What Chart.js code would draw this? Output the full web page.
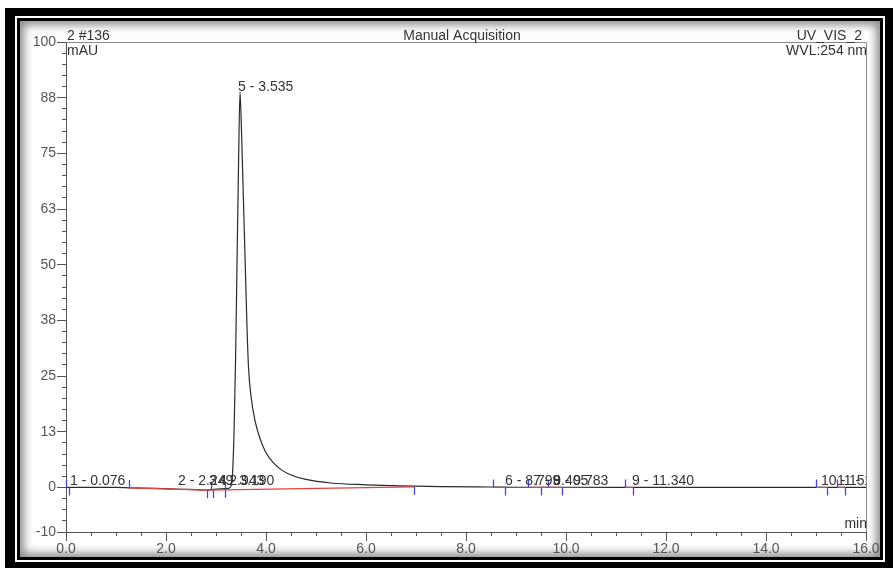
<!DOCTYPE html>
<html>
<head>
<meta charset="utf-8">
<script src="https://cdn.jsdelivr.net/npm/chart.js@4.4.1/dist/chart.umd.min.js"></script>
<style>
body { margin:0; background:#fff; width:893px; height:568px; overflow:hidden; position:relative; }
#f1 { position:absolute; left:5px; top:8px; width:888px; height:560px; background:#000; }
#f2 { position:absolute; left:10px; top:8px; right:8px; bottom:6px; border:2px solid #fff; }
#f3 { position:absolute; left:0; top:0; right:0; bottom:0; border:3px solid #000; background:#fff; box-shadow: inset 0 0 8px 4px rgba(0,0,0,0.45); }
#c { position:absolute; left:0; top:0; }
</style>
</head>
<body>
<div id="f1"><div id="f2"><div id="f3"></div></div></div>
<canvas id="c" width="893" height="568"></canvas>
<script>
// detector trace, time in min, signal in mAU
const signalTimes = [0.0, 0.3, 1.0, 1.3, 1.8, 2.3, 2.6, 2.85, 2.95, 3.1, 3.25, 3.30, 3.33, 3.36, 3.39, 3.42, 3.45, 3.48,
    3.51, 3.55, 3.59, 3.62, 3.65, 3.70, 3.78, 3.88, 4.0, 4.15, 4.3, 4.5, 4.8, 5.3, 6.0, 6.7, 7.5, 8.5, 9.0, 10.0, 12.0, 14.0, 16.0];
const signalValues = [0.0, 0.0, 0.0, -0.1, -0.2, -0.4, -0.5, -0.6, -0.4, -0.3, -0.2, 0.3, 3, 12, 28, 50, 72, 88.8,
    80, 64, 48, 36, 27, 20.5, 15, 11, 7.8, 5.5, 4.0, 2.8, 1.8, 1.0, 0.6, 0.35, 0.2, 0.1, 0.05, 0.05, 0.0, 0.0, 0.0];

// integration baselines (red)
const baseStart = [1.26, 2.82, 8.54, 9.24, 11.18, 15.00, 15.42];
const baseEnd = [2.82, 6.96, 8.78, 9.92, 11.34, 15.22, 15.58];
const baseStartLevel = [-0.1, -0.6, 0, 0, 0, 0, 0];
const baseEndLevel = [-0.6, 0.15, 0, 0, 0, 0, 0];

// peak start / end markers (blue)
const startMarks = [0.00, 1.26, 2.90, 3.18, 8.54, 9.24, 9.64, 11.18, 15.00, 15.42];
const startLevels = [0, -0.1, -0.55, -0.5, 0, 0, 0, 0, 0, 0];
const endMarks = [0.06, 2.82, 2.94, 3.18, 6.96, 8.78, 9.50, 9.92, 11.34, 15.22, 15.58];
const endLevels = [0, -0.6, -0.55, -0.5, 0.15, 0, 0, 0, 0, 0, 0];

// peak labels
const peakLabels = ["1 - 0.076", "2 - 2.249", "3 - 2.943", "4 - 3.190", "5 - 3.535", "6 - 8.799", "7 - 9.405", "8 - 9.783", "9 - 11.340", "10 - 15.237", "11 - 15.519"];
const peakLabelTimes = [0.08, 2.24, 2.86, 3.06, 3.44, 8.78, 9.34, 9.74, 11.32, 15.10, 15.42];
const peakLabelLevels = [0, 0, 0, 0, 88.5, 0, 0, 0, 0, 0, 0];

// axes
const xTickValues = [0, 2, 4, 6, 8, 10, 12, 14, 16];
const xTickLabels = ["0.0", "2.0", "4.0", "6.0", "8.0", "10.0", "12.0", "14.0", "16.0"];
const xMinorStep = 0.5;
const yTickValues = [-10, 0, 12.5, 25, 37.5, 50, 62.5, 75, 87.5, 100];
const yTickLabels = ["-10", "0", "13", "25", "38", "50", "63", "75", "88", "100"];
const yMinorStep = 2.5;

const FONT = '"Liberation Sans", Arial, sans-serif';

const signal = signalTimes.map((t, i) => ({x: t, y: signalValues[i]}));
const baseline = [];
for (let i = 0; i < baseStart.length; i++) {
    baseline.push({x: baseStart[i], y: baseStartLevel[i]});
    baseline.push({x: baseEnd[i], y: baseEndLevel[i]});
    baseline.push({x: baseEnd[i], y: null});
}

function stepTicks(min, max, step) {
    let out = [];
    for (let v = min; v <= max + 1e-9; v += step) out.push({value: Math.round(v * 100) / 100});
    return out;
}

const chromPlugin = {
    id: 'chrom',
    afterDatasetsDraw(chart) {
        const {ctx, chartArea: a} = chart;
        const x = chart.scales.x, y = chart.scales.y;
        ctx.save();
        ctx.beginPath();
        ctx.rect(a.left - 1, a.top - 20, a.right - a.left + 1, a.bottom - a.top + 20);
        ctx.clip();

        ctx.strokeStyle = '#4646f0';
        ctx.lineWidth = 1.3;
        ctx.beginPath();
        startMarks.forEach((t, i) => {
            const px = Math.round(x.getPixelForValue(t)) + 0.5, py = y.getPixelForValue(startLevels[i]);
            ctx.moveTo(px, py); ctx.lineTo(px, py - 8);
        });
        endMarks.forEach((t, i) => {
            const px = Math.round(x.getPixelForValue(t)) + 0.5, py = y.getPixelForValue(endLevels[i]);
            ctx.moveTo(px, py); ctx.lineTo(px, py + 8);
        });
        ctx.stroke();

        ctx.font = '14px ' + FONT;
        ctx.fillStyle = '#333';
        ctx.textAlign = 'left';
        ctx.textBaseline = 'alphabetic';
        peakLabels.forEach((s, i) => {
            ctx.fillText(s, x.getPixelForValue(peakLabelTimes[i]), y.getPixelForValue(peakLabelLevels[i]) - 2);
        });
        ctx.restore();
    },
    afterDraw(chart) {
        const {ctx, chartArea: a} = chart;
        ctx.save();
        ctx.strokeStyle = '#8a8a8a';
        ctx.lineWidth = 1;
        ctx.beginPath();
        ctx.moveTo(a.left, a.top + 0.5); ctx.lineTo(a.right + 0.5, a.top + 0.5);
        ctx.lineTo(a.right + 0.5, a.bottom);
        ctx.stroke();

        ctx.font = '14px ' + FONT;
        ctx.fillStyle = '#333';
        ctx.textBaseline = 'alphabetic';
        ctx.textAlign = 'left';
        ctx.fillText('2 #136', a.left + 1, a.top - 2);
        ctx.fillText('mAU', a.left + 1, a.top + 13);
        ctx.textAlign = 'center';
        ctx.fillText('Manual Acquisition', (a.left + a.right) / 2 - 4, a.top - 2);
        ctx.textAlign = 'right';
        ctx.fillText('UV_VIS_2', a.right - 4, a.top - 2);
        ctx.fillText('WVL:254 nm', a.right + 1, a.top + 13);
        ctx.fillText('min', a.right + 1, a.bottom - 4);
        ctx.restore();
    }
};

const tickFont = {family: FONT, size: 14};

new Chart(document.getElementById('c'), {
    type: 'line',
    data: {
        datasets: [{
            data: signal,
            xAxisID: 'x', yAxisID: 'y',
            borderColor: '#2b2b2b',
            borderWidth: 1.2,
            pointRadius: 0,
            cubicInterpolationMode: 'monotone',
            order: 2
        }, {
            data: baseline,
            xAxisID: 'x', yAxisID: 'y',
            borderColor: '#e8403c',
            borderWidth: 1.2,
            pointRadius: 0,
            spanGaps: false,
            order: 1
        }]
    },
    options: {
        responsive: false,
        animation: false,
        layout: {padding: {left: 0, top: 42, right: 27, bottom: 0}},
        plugins: {legend: {display: false}, tooltip: {enabled: false}},
        scales: {
            x: {
                type: 'linear', position: 'bottom', weight: 1, min: 0, max: 16,
                afterBuildTicks: s => { s.ticks = xTickValues.map(v => ({value: v})); },
                afterFit: s => { s.height = 36; },
                ticks: {callback: (v, i) => xTickLabels[i], maxRotation: 0, autoSkip: false, padding: 0, color: '#555', font: tickFont},
                grid: {drawOnChartArea: false, tickLength: 9, color: '#555'},
                border: {color: '#555'}
            },
            xMinor: {
                type: 'linear', position: 'bottom', weight: 0, min: 0, max: 16,
                afterBuildTicks: s => { s.ticks = stepTicks(0, 16, xMinorStep); },
                afterFit: s => { s.height = 0; },
                ticks: {display: false},
                grid: {drawOnChartArea: false, tickLength: 4, color: '#555'},
                border: {display: false}
            },
            y: {
                type: 'linear', position: 'left', weight: 1, min: -10, max: 100,
                afterBuildTicks: s => { s.ticks = yTickValues.map(v => ({value: v})); },
                afterFit: s => { s.width = 66; },
                ticks: {callback: (v, i) => yTickLabels[i], autoSkip: false, padding: 1, color: '#555', font: tickFont},
                grid: {drawOnChartArea: false, tickLength: 9, color: '#555'},
                border: {color: '#555'}
            },
            yMinor: {
                type: 'linear', position: 'left', weight: 0, min: -10, max: 100,
                afterBuildTicks: s => { s.ticks = stepTicks(-10, 100, yMinorStep); },
                afterFit: s => { s.width = 0; },
                ticks: {display: false},
                grid: {drawOnChartArea: false, tickLength: 4, color: '#555'},
                border: {display: false}
            }
        }
    },
    plugins: [chromPlugin]
});
</script>
</body>
</html>
